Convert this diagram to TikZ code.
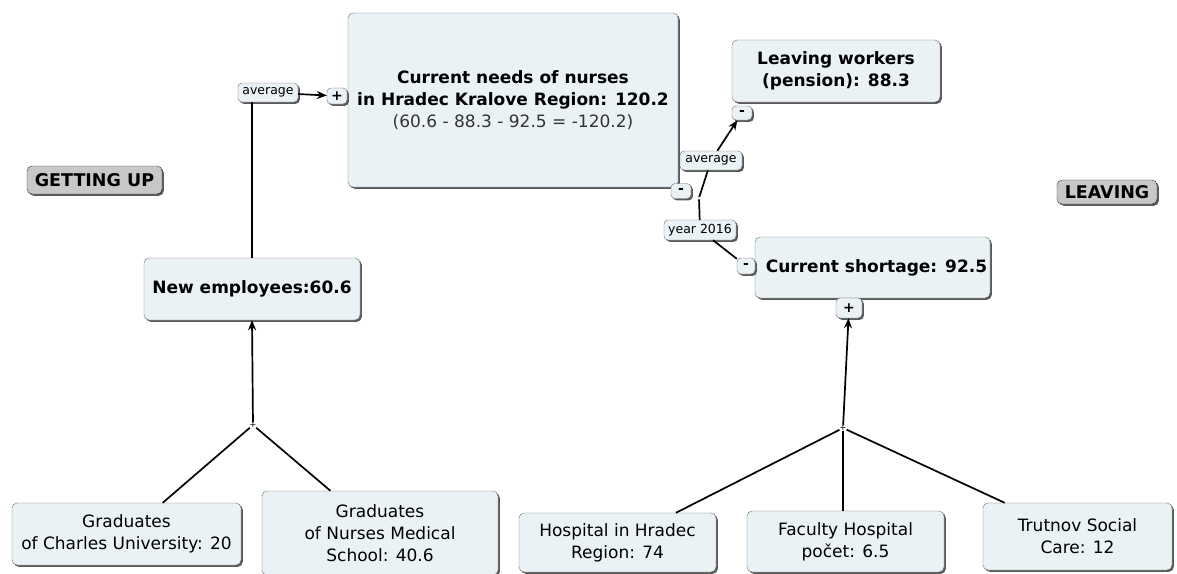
\documentclass[tikz,border=0pt]{standalone}
\usepackage{fontspec}
\setmainfont{DejaVu Sans}
\usetikzlibrary{positioning,shadows,arrows.meta}
\definecolor{boxfill}{RGB}{234,242,246}
\definecolor{boxline}{RGB}{110,110,110}
\definecolor{tagfill}{RGB}{200,200,200}

\begin{document}
\begin{tikzpicture}[x=1pt,y=-1pt,
    shade/.style={drop shadow={shadow xshift=1.8pt,shadow yshift=-1.8pt,fill=black!65,opacity=1}},
    concept/.style={draw=boxline, fill=boxfill, rounded corners=5pt, shade, align=center,
      inner sep=0pt, font=\fontsize{17}{22}\selectfont},
    heading/.style={concept, font=\bfseries\fontsize{17}{22}\selectfont},
    note/.style={draw=boxline, fill=boxfill, rounded corners=4pt, shade, inner sep=0pt,
      font=\fontsize{12.5}{14}\selectfont},
    badge/.style={note, font=\bfseries\fontsize{14}{14}\selectfont},
    tag/.style={draw=black!80, fill=tagfill, rounded corners=5pt, shade, inner sep=0pt,
      font=\bfseries\fontsize{17.5}{18}\selectfont},
    joint/.style={inner sep=0pt, font=\fontsize{8}{8}\selectfont},
    link/.style={line width=1.7pt},
    arr/.style={link, -{Stealth[length=10pt,width=8pt]}}]
  \clip (0,0) rectangle (1177,573);

  % middle
  \node[heading, minimum width=330, minimum height=174] (needs) at (513,100)
    {Current needs of nurses\\in Hradec Kralove Region: 120.2\\{\mdseries\color{black!80}(60.6 - 88.3 - 92.5 = -120.2)}};
  \node[badge, minimum width=20, minimum height=16] (plusN) at (337,96) {+};
  \node[badge, minimum width=20, minimum height=15] (minusN) at (681,191) {-};

  % getting up side
  \node[tag, minimum width=135, minimum height=28] (up) at (94.5,180) {GETTING UP};
  \node[note, minimum width=60, minimum height=19] (avgL) at (268,92.5) {average};
  \node[heading, minimum width=216, minimum height=62] (emp) at (252,289) {New employees:60.6};
  \node[joint] (jl) at (253,425) {+};
  \node[concept, minimum width=229, minimum height=62] (charles) at (126.5,534) {Graduates\\of Charles University: 20};
  \node[concept, minimum width=236, minimum height=84] (school) at (380,533) {Graduates\\of Nurses Medical\\School: 40.6};

  % leaving side
  \node[tag, minimum width=100, minimum height=24] (away) at (1107,192) {LEAVING};
  \node[heading, minimum width=208, minimum height=62] (pension) at (836,71) {Leaving workers\\(pension): 88.3};
  \node[badge, minimum width=20, minimum height=14] (minusP) at (742,113) {-};
  \node[joint] (jm) at (699,198) {-};
  \node[note, minimum width=62, minimum height=19] (avgR) at (711,160.5) {average};
  \node[note, minimum width=72, minimum height=20] (year) at (700,230) {year 2016};
  \node[heading, minimum width=235, minimum height=61] (short) at (872.5,267.5) {\hspace*{8pt}Current shortage: 92.5};
  \node[badge, minimum width=18, minimum height=16] (minusS) at (746,266) {-};
  \node[badge, minimum width=26, minimum height=20] (plusS) at (849,308) {+};
  \node[joint] (jr) at (843,428) {+};
  \node[concept, minimum width=197, minimum height=59] (hosp) at (617.5,542.5) {Hospital in Hradec\\Region: 74};
  \node[concept, minimum width=197, minimum height=61] (faculty) at (845.5,541.5) {Faculty Hospital\\počet: 6.5};
  \node[concept, minimum width=189, minimum height=67] (trutnov) at (1077.5,536.5) {Trutnov Social\\Care: 12};

  % links
  \draw[link] (emp.north) -- (emp.north |- avgL.south);
  \draw[arr] (avgL) -- (plusN);
  \draw[arr] (jl) -- (emp.south);
  \draw[link] (jl) -- (charles);
  \draw[link] (jl) -- (school);

  \draw[link] (jm) -- (avgR);
  \draw[arr] (avgR) -- (minusP);
  \draw[link] (jm) -- (year);
  \draw[link] (year) -- (minusS);
  \draw[arr] (jr) -- (plusS);
  \draw[link] (jr) -- (hosp);
  \draw[link] (jr) -- (faculty.north -| jr);
  \draw[link] (jr) -- (trutnov);
\end{tikzpicture}
\end{document}
